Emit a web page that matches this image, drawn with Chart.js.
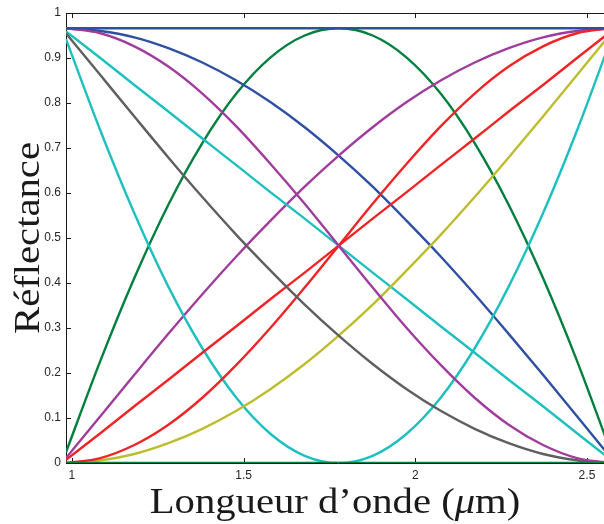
<!DOCTYPE html>
<html>
<head>
<meta charset="utf-8">
<title>Réflectance</title>
<script src="https://cdn.jsdelivr.net/npm/chart.js@4.4.1/dist/chart.umd.min.js"></script>
<style>
  html, body { margin: 0; padding: 0; overflow: hidden; background: #fff; }
  #wrap { width: 611px; height: 524px; }
</style>
</head>
<body>
<div id="wrap"><canvas id="reflectanceChart"></canvas></div>
<script>
// wavelength samples (µm)
const wavelengths = [0.983, 1.083, 1.182, 1.281, 1.380, 1.479, 1.578, 1.678, 1.777,
                     1.876, 1.975, 2.074, 2.173, 2.272, 2.372, 2.471, 2.570];
const xTicks = [1, 1.5, 2, 2.5];
const yTicks = [0, 0.1, 0.2, 0.3, 0.4, 0.5, 0.6, 0.7, 0.8, 0.9, 1];

// reflectance curves
const topFlat    = [0.966, 0.966, 0.966, 0.966, 0.966, 0.966, 0.966, 0.966, 0.966, 0.966, 0.966, 0.966, 0.966, 0.966, 0.966, 0.966, 0.966];
const bottomFlat = [0, 0, 0, 0, 0, 0, 0, 0, 0, 0, 0, 0, 0, 0, 0, 0, 0];
const greenArch  = [0.024, 0.227, 0.411, 0.574, 0.711, 0.821, 0.901, 0.950, 0.966, 0.950, 0.901, 0.821, 0.711, 0.574, 0.411, 0.227, 0.024];
const cyanDip    = [0.942, 0.739, 0.555, 0.392, 0.255, 0.145, 0.065, 0.016, 0.000, 0.016, 0.065, 0.145, 0.255, 0.392, 0.555, 0.739, 0.942];
const blueFall   = [0.966, 0.960, 0.946, 0.922, 0.890, 0.850, 0.802, 0.746, 0.683, 0.614, 0.538, 0.459, 0.375, 0.287, 0.196, 0.104, 0.011];
const purpleRise = [0.011, 0.104, 0.196, 0.287, 0.375, 0.459, 0.538, 0.614, 0.683, 0.746, 0.802, 0.850, 0.890, 0.922, 0.946, 0.960, 0.966];
const grayFall   = [0.955, 0.862, 0.770, 0.679, 0.591, 0.507, 0.428, 0.352, 0.283, 0.220, 0.164, 0.116, 0.076, 0.044, 0.020, 0.006, 0.000];
const yellowRise = [0.000, 0.006, 0.020, 0.044, 0.076, 0.116, 0.164, 0.220, 0.283, 0.352, 0.428, 0.507, 0.591, 0.679, 0.770, 0.862, 0.955];
const purpleFall = [0.966, 0.955, 0.926, 0.881, 0.821, 0.748, 0.665, 0.576, 0.483, 0.390, 0.300, 0.218, 0.145, 0.085, 0.040, 0.011, 0.000];
const redRise    = [0.000, 0.011, 0.040, 0.085, 0.145, 0.218, 0.300, 0.390, 0.483, 0.576, 0.665, 0.748, 0.821, 0.881, 0.926, 0.955, 0.966];
const cyanLine   = [0.959, 0.900, 0.840, 0.781, 0.721, 0.662, 0.602, 0.543, 0.483, 0.423, 0.364, 0.304, 0.245, 0.185, 0.126, 0.066, 0.007];
const redLine    = [0.007, 0.066, 0.126, 0.185, 0.245, 0.304, 0.364, 0.423, 0.483, 0.543, 0.602, 0.662, 0.721, 0.781, 0.840, 0.900, 0.959];

const BLUE = "#2f4fa2";
const GREEN = "#00803f";
const PURPLE = "#a03d9c";
const CYAN = "#1fbfbf";
const GRAY = "#5f5f5f";
const YELLOW = "#bcbd2e";
const RED = "#ef2426";

// first entry ends up on top
const series = [
  [topFlat, BLUE],
  [bottomFlat, GREEN],
  [purpleFall, PURPLE],
  [grayFall, GRAY],
  [redRise, RED],
  [redLine, RED],
  [yellowRise, YELLOW],
  [cyanDip, CYAN],
  [cyanLine, CYAN],
  [purpleRise, PURPLE],
  [blueFall, BLUE],
  [greenArch, GREEN],
];

const TICK_LEN = 5;

const frameAndTitles = {
  id: "frameAndTitles",
  beforeDatasetsDraw(chart) {
    const { ctx, chartArea: a, scales: { x, y } } = chart;
    ctx.save();
    ctx.strokeStyle = "#1a1a1a";
    ctx.lineWidth = 1;
    ctx.beginPath();
    ctx.rect(a.left + 0.5, a.top + 0.5, a.right - a.left - 1, a.bottom - a.top);
    xTicks.forEach((v) => {
      const px = Math.round(x.getPixelForValue(v)) + 0.5;
      ctx.moveTo(px, a.bottom);
      ctx.lineTo(px, a.bottom - TICK_LEN);
      ctx.moveTo(px, a.top);
      ctx.lineTo(px, a.top + TICK_LEN);
    });
    yTicks.forEach((v) => {
      const py = Math.round(y.getPixelForValue(v)) + 0.5;
      ctx.moveTo(a.left, py);
      ctx.lineTo(a.left + TICK_LEN, py);
    });
    ctx.stroke();
    ctx.restore();
  },
  afterDraw(chart) {
    const { ctx, chartArea: a } = chart;
    const font = "36px 'Liberation Serif'";
    const stretch = 1.13;
    ctx.save();
    ctx.fillStyle = "#1a1a1a";
    ctx.textBaseline = "alphabetic";

    // y title, rotated
    ctx.save();
    ctx.translate(39, (a.top + a.bottom) / 2);
    ctx.rotate(-Math.PI / 2);
    ctx.scale(stretch, 1);
    ctx.font = font;
    ctx.textAlign = "center";
    ctx.fillText("Réflectance", 0, 0);
    ctx.restore();

    // x title with italic mu
    const parts = [
      ["Longueur d’onde (", font],
      ["μ", "italic " + font],
      ["m)", font],
    ];
    let total = 0;
    parts.forEach((p) => {
      ctx.font = p[1];
      total += ctx.measureText(p[0]).width;
    });
    ctx.save();
    ctx.translate(335, 513);
    ctx.scale(stretch, 1);
    ctx.textAlign = "left";
    let cx = -total / 2;
    parts.forEach((p) => {
      ctx.font = p[1];
      ctx.fillText(p[0], cx, 0);
      cx += ctx.measureText(p[0]).width;
    });
    ctx.restore();
    ctx.restore();
  },
};

const plainNumber = (v) => String(v);

document.addEventListener("DOMContentLoaded", () => {
  const ctx = document.getElementById("reflectanceChart").getContext("2d");
  new Chart(ctx, {
    type: "line",
    data: {
      datasets: series.map(([values, color]) => ({
        data: values.map((v, i) => ({ x: wavelengths[i], y: v })),
        borderColor: color,
        borderWidth: 2.4,
        pointRadius: 0,
        fill: false,
        cubicInterpolationMode: "monotone",
      })),
    },
    options: {
      responsive: true,
      maintainAspectRatio: false,
      animation: false,
      layout: { padding: { top: 13, right: 0, left: 0, bottom: 0 } },
      scales: {
        x: {
          type: "linear",
          min: 0.983,
          max: 2.57,
          grid: { display: false, drawTicks: false },
          border: { display: false },
          afterBuildTicks: (scale) => {
            scale.ticks = xTicks.map((v) => ({ value: v }));
          },
          afterFit: (scale) => {
            scale.height = 61;
          },
          ticks: {
            padding: 5,
            maxRotation: 0,
            color: "#262626",
            font: { family: "'Liberation Sans'", size: 12 },
            callback: plainNumber,
          },
        },
        y: {
          min: 0,
          max: 1,
          grid: { display: false, drawTicks: false },
          border: { display: false },
          afterBuildTicks: (scale) => {
            scale.ticks = yTicks.map((v) => ({ value: v }));
          },
          afterFit: (scale) => {
            scale.width = 66;
          },
          ticks: {
            padding: 5,
            color: "#262626",
            font: { family: "'Liberation Sans'", size: 12 },
            callback: plainNumber,
          },
        },
      },
      plugins: {
        legend: { display: false },
        tooltip: { enabled: false },
      },
    },
    plugins: [frameAndTitles],
  });
});
</script>
</body>
</html>
